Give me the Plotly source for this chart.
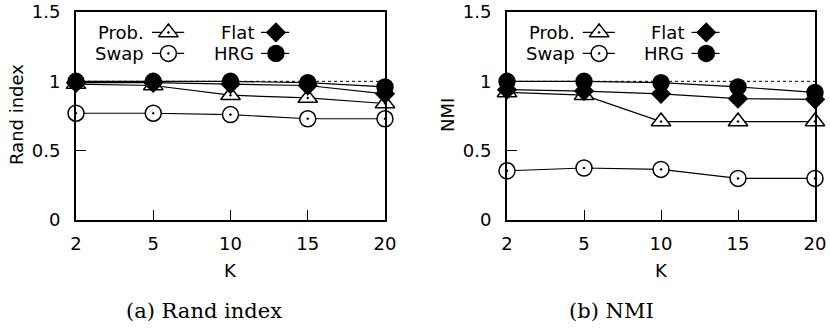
import plotly.graph_objects as go

# ---- data -------------------------------------------------------------
K = ["2", "5", "10", "15", "20"]

rand_prob = [0.98, 0.97, 0.90, 0.88, 0.84]
rand_swap = [0.77, 0.77, 0.76, 0.73, 0.73]
rand_flat = [0.99, 0.99, 0.98, 0.97, 0.91]
rand_hrg = [1.00, 1.00, 1.00, 0.99, 0.96]

nmi_prob = [0.92, 0.90, 0.71, 0.71, 0.71]
nmi_swap = [0.355, 0.375, 0.365, 0.30, 0.30]
nmi_flat = [0.94, 0.93, 0.91, 0.875, 0.87]
nmi_hrg = [1.00, 1.00, 0.99, 0.96, 0.92]

y_ticks = [0, 0.5, 1, 1.5]
y_ticktext = ["0", "0.5", "1", "1.5"]

series_names = ["Prob.", "Swap", "Flat", "HRG"]
symbols = {
    "Prob.": "triangle-up-dot",
    "Swap": "circle-dot",
    "Flat": "diamond",
    "HRG": "circle",
}
fills = {"Prob.": "white", "Swap": "white", "Flat": "black", "HRG": "black"}
sizes = {"Prob.": 17, "Swap": 16, "Flat": 14, "HRG": 16}

panels = [
    {"vals": [rand_prob, rand_swap, rand_flat, rand_hrg], "ylabel": "Rand index",
     "caption": "(a) Rand index"},
    {"vals": [nmi_prob, nmi_swap, nmi_flat, nmi_hrg], "ylabel": "NMI",
     "caption": "(b) NMI"},
]

# ---- geometry (pixels on an 830 x 332 page) ----------------------------
W, H = 830, 332
x_dom = [(76, 385), (507, 815)]
y_top, y_bot = 12, 220
y_dom = [(H - y_bot) / H, (H - y_top) / H]
ylabel_x = [17, 448]
caption_x = [204, 611]

SANS = "DejaVu Sans"
SERIF = "DejaVu Serif"
BLACK = "black"
FS = 18


def marker_style(name):
    return dict(symbol=symbols[name], size=sizes[name], color=fills[name],
                line=dict(color=BLACK, width=1.5))


fig = go.Figure()
layout = {}
annotations = []
shapes = []

for i, p in enumerate(panels):
    n = i + 1
    xa = "x" if n == 1 else f"x{n}"
    ya = "y" if n == 1 else f"y{n}"
    # overlay axes (0..1 on both) used to place the legend keys in each panel
    lx_n = n + 2
    lxa, lya = f"x{lx_n}", f"y{lx_n}"

    dom = [x_dom[i][0] / W, x_dom[i][1] / W]
    axis_common = dict(
        showline=True, linecolor=BLACK, linewidth=2, mirror=True,
        ticks="inside", ticklen=10, tickwidth=1.3, tickcolor=BLACK,
        showgrid=False, zeroline=False, automargin=False,
        tickfont=dict(family=SANS, size=FS, color=BLACK),
    )
    layout[f"xaxis{'' if n == 1 else n}"] = dict(
        domain=dom, anchor=ya, type="category", range=[0, len(K) - 1],
        ticklabelstandoff=6, **axis_common)
    layout[f"yaxis{'' if n == 1 else n}"] = dict(
        domain=y_dom, anchor=xa, range=[0, 1.5], tickvals=y_ticks,
        ticktext=y_ticktext, ticklabelstandoff=10, **axis_common)
    layout[f"xaxis{lx_n}"] = dict(overlaying=xa, anchor=lya, range=[0, 1],
                                  visible=False, fixedrange=True,
                                  automargin=False)
    layout[f"yaxis{lx_n}"] = dict(overlaying=ya, anchor=lxa, range=[0, 1],
                                  visible=False, fixedrange=True,
                                  automargin=False)

    # dashed reference line at 1
    shapes.append(dict(type="line", xref=f"{xa} domain", yref=ya,
                       x0=0, x1=1, y0=1, y1=1, layer="below",
                       line=dict(color=BLACK, width=1, dash="3px,3px")))

    # series
    for name, vals in zip(series_names, p["vals"]):
        fig.add_trace(go.Scatter(
            x=K, y=vals, xaxis=xa, yaxis=ya, mode="lines+markers",
            name=name, showlegend=False, cliponaxis=False,
            line=dict(color=BLACK, width=1.2), marker=marker_style(name),
        ))

    # legend: label, sample line, marker (two columns, two rows)
    key_layout = [
        ("Prob.", 0.2265, 0.246, 0.350, 0.299, 0.902),
        ("Swap", 0.2265, 0.246, 0.350, 0.299, 0.801),
        ("Flat", 0.5825, 0.599, 0.690, 0.647, 0.902),
        ("HRG", 0.5825, 0.599, 0.690, 0.647, 0.801),
    ]
    for name, tx, l0, l1, mx, yy in key_layout:
        annotations.append(dict(
            text=name, xref=f"{xa} domain", yref=f"{ya} domain", x=tx, y=yy,
            xanchor="right", yanchor="middle", showarrow=False,
            font=dict(family=SANS, size=FS, color=BLACK)))
        fig.add_trace(go.Scatter(
            x=[l0, l1], y=[yy, yy], xaxis=lxa, yaxis=lya, mode="lines",
            showlegend=False, hoverinfo="skip",
            line=dict(color=BLACK, width=1.2)))
        fig.add_trace(go.Scatter(
            x=[mx], y=[yy], xaxis=lxa, yaxis=lya, mode="markers",
            showlegend=False, cliponaxis=False, hoverinfo="skip",
            marker=marker_style(name)))

    # axis titles and caption
    annotations.append(dict(
        text=p["ylabel"], xref="paper", yref="paper", x=ylabel_x[i] / W,
        y=(H - 115) / H, textangle=-90, xanchor="center", yanchor="middle",
        showarrow=False, font=dict(family=SANS, size=FS, color=BLACK)))
    annotations.append(dict(
        text="K", xref="paper", yref="paper",
        x=(x_dom[i][0] + x_dom[i][1]) / 2 / W, y=(H - 270) / H,
        xanchor="center", yanchor="middle", showarrow=False,
        font=dict(family=SANS, size=FS, color=BLACK)))
    annotations.append(dict(
        text=p["caption"], xref="paper", yref="paper", x=caption_x[i] / W,
        y=(H - 311) / H, xanchor="center", yanchor="middle", showarrow=False,
        font=dict(family=SERIF, size=21, color=BLACK)))

fig.update_layout(
    width=W, height=H,
    margin=dict(l=0, r=0, t=0, b=0, pad=0, autoexpand=False),
    paper_bgcolor="white", plot_bgcolor="white",
    annotations=annotations, shapes=shapes, **layout,
)

fig.write_html("out.html")
